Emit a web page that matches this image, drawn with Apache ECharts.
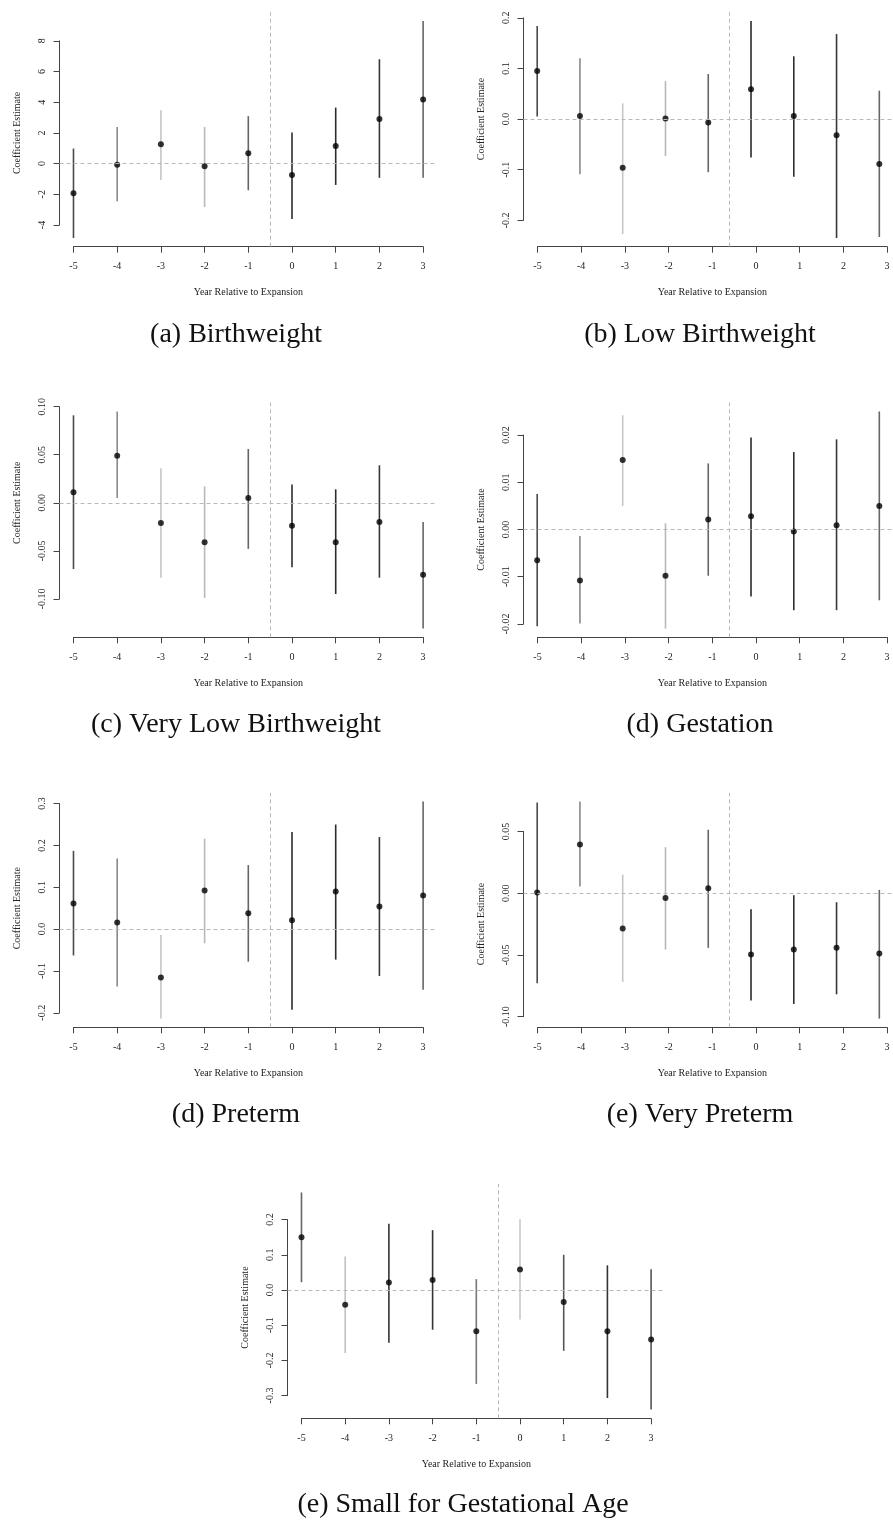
<!DOCTYPE html>
<html>
<head>
<meta charset="utf-8">
<script src="https://cdn.jsdelivr.net/npm/echarts@6/dist/echarts.min.js"></script>
<style>
html,body{margin:0;padding:0;background:#fff;}
#chart{width:893px;height:1520px;}
</style>
</head>
<body>
<div id="chart"></div>
<script>
// ---------------- DATA ----------------
const years = [-5, -4, -3, -2, -1, 0, 1, 2, 3];
const xTickLabels = ['-5', '-4', '-3', '-2', '-1', '0', '1', '2', '3'];

// (a) Birthweight
const bwEst = [-1.93, -0.07, 1.26, -0.17, 0.67, -0.74, 1.15, 2.91, 4.17];
const bwLo  = [-4.85, -2.46, -1.07, -2.83, -1.74, -3.61, -1.39, -0.93, -0.93];
const bwHi  = [0.98, 2.39, 3.48, 2.39, 3.09, 2.02, 3.65, 6.80, 9.30];
const bwTicks = ['-4', '-2', '0', '2', '4', '6', '8'];

// (b) Low Birthweight
const lbwEst = [0.095, 0.006, -0.096, 0.001, -0.007, 0.059, 0.006, -0.032, -0.089];
const lbwLo  = [0.005, -0.109, -0.227, -0.073, -0.105, -0.076, -0.114, -0.235, -0.233];
const lbwHi  = [0.184, 0.120, 0.031, 0.075, 0.089, 0.194, 0.124, 0.168, 0.056];
const lbwTicks = ['-0.2', '-0.1', '0.0', '0.1', '0.2'];

// (c) Very Low Birthweight
const vlbwEst = [0.011, 0.049, -0.021, -0.041, 0.005, -0.024, -0.041, -0.020, -0.075];
const vlbwLo  = [-0.069, 0.005, -0.078, -0.099, -0.048, -0.067, -0.095, -0.078, -0.131];
const vlbwHi  = [0.091, 0.095, 0.036, 0.017, 0.056, 0.019, 0.014, 0.039, -0.020];
const vlbwTicks = ['-0.10', '-0.05', '0.00', '0.05', '0.10'];

// (d) Gestation
const gestEst = [-0.0065, -0.0108, 0.0147, -0.0098, 0.0021, 0.0028, -0.0004, 0.0009, 0.0050];
const gestLo  = [-0.0205, -0.0199, 0.0050, -0.0210, -0.0098, -0.0142, -0.0171, -0.0171, -0.0150];
const gestHi  = [0.0075, -0.0014, 0.0242, 0.0013, 0.0140, 0.0195, 0.0164, 0.0191, 0.0250];
const gestTicks = ['-0.02', '-0.01', '0.00', '0.01', '0.02'];

// (d) Preterm
const ptEst = [0.061, 0.016, -0.116, 0.092, 0.038, 0.021, 0.090, 0.054, 0.080];
const ptLo  = [-0.063, -0.137, -0.214, -0.034, -0.078, -0.193, -0.073, -0.112, -0.145];
const ptHi  = [0.187, 0.169, -0.014, 0.216, 0.153, 0.232, 0.250, 0.220, 0.305];
const ptTicks = ['-0.2', '-0.1', '0.0', '0.1', '0.2', '0.3'];

// (e) Very Preterm
const vptEst = [0.0005, 0.0395, -0.0286, -0.0038, 0.0041, -0.0497, -0.0457, -0.0441, -0.0489];
const vptLo  = [-0.0730, 0.0054, -0.0719, -0.0457, -0.0443, -0.0870, -0.0897, -0.0819, -0.1016];
const vptHi  = [0.0735, 0.0743, 0.0151, 0.0373, 0.0514, -0.0130, -0.0016, -0.0073, 0.0027];
const vptTicks = ['-0.10', '-0.05', '0.00', '0.05'];

// (e) Small for Gestational Age
const sgaEst = [0.150, -0.042, 0.021, 0.028, -0.117, 0.058, -0.034, -0.117, -0.141];
const sgaLo  = [0.022, -0.179, -0.150, -0.113, -0.267, -0.084, -0.173, -0.307, -0.340];
const sgaHi  = [0.277, 0.095, 0.188, 0.170, 0.031, 0.201, 0.100, 0.070, 0.059];
const sgaTicks = ['-0.3', '-0.2', '-0.1', '0.0', '0.1', '0.2'];

const captions = ['(a) Birthweight', '(b) Low Birthweight', '(c) Very Low Birthweight',
  '(d) Gestation', '(d) Preterm', '(e) Very Preterm', '(e) Small for Gestational Age'];

// ---------------- STYLE / LAYOUT ----------------
const barColorsMain = ['#4a4a4a', '#8a8a8a', '#c6c6c6', '#b8b8b8', '#656565', '#2c2c2c', '#2c2c2c', '#363636', '#666666'];
const barColorsSga  = ['#666666', '#c2c2c2', '#333333', '#333333', '#777777', '#c8c8c8', '#555555', '#333333', '#555555'];

const panels = [
  {est: bwEst, lo: bwLo, hi: bwHi, ticks: bwTicks, colors: barColorsMain},
  {est: lbwEst, lo: lbwLo, hi: lbwHi, ticks: lbwTicks, colors: barColorsMain},
  {est: vlbwEst, lo: vlbwLo, hi: vlbwHi, ticks: vlbwTicks, colors: barColorsMain},
  {est: gestEst, lo: gestLo, hi: gestHi, ticks: gestTicks, colors: barColorsMain},
  {est: ptEst, lo: ptLo, hi: ptHi, ticks: ptTicks, colors: barColorsMain},
  {est: vptEst, lo: vptLo, hi: vptHi, ticks: vptTicks, colors: barColorsMain},
  {est: sgaEst, lo: sgaLo, hi: sgaHi, ticks: sgaTicks, colors: barColorsSga}
];
const layout = [
  {left: 59.5, axisY: 246.7}, {left: 523.5, axisY: 246.7},
  {left: 59.5, axisY: 637.3}, {left: 523.5, axisY: 637.3},
  {left: 59.5, axisY: 1027.3}, {left: 523.5, axisY: 1027.3},
  {left: 287.5, axisY: 1418.3}
];
const captionPos = [[236, 335], [700, 335], [236, 725], [700, 725], [236, 1115], [700, 1115], [463, 1505]];
const PW = 377.6, PH = 234.5;
const FONT = 'Liberation Serif';
const AXIS_COLOR = '#444';
const TEXT_COLOR = '#222';
const DASH_COLOR = '#b8b8b8';

const grid = [], xAxis = [], yAxis = [], series = [];

panels.forEach((p, i) => {
  const lay = layout[i];
  const xmin = Math.min(...years), xmax = Math.max(...years);
  const xlo = xmin - 0.04 * (xmax - xmin), xhi = xmax + 0.04 * (xmax - xmin);
  const dmin = Math.min(...p.lo), dmax = Math.max(...p.hi);
  const ylo = dmin - 0.04 * (dmax - dmin), yhi = dmax + 0.04 * (dmax - dmin);
  const tvals = p.ticks.map(Number);
  const tMin = tvals[0], tMax = tvals[tvals.length - 1];
  const tInt = +((tMax - tMin) / (tvals.length - 1)).toFixed(6);

  // plot grid (R plot region)
  const gTop = lay.axisY - PH;
  const gi = grid.length;
  grid.push({left: lay.left, top: gTop, width: PW, height: PH});
  xAxis.push({type: 'value', gridIndex: gi, min: xlo, max: xhi, show: false});
  yAxis.push({type: 'value', gridIndex: gi, min: ylo, max: yhi, show: false});

  // axis grid (R-style detached axes)
  const aLeft = lay.left + PW * (xmin - xlo) / (xhi - xlo);
  const aWidth = PW * (xmax - xmin) / (xhi - xlo);
  const aTop = lay.axisY - PH * (tMax - ylo) / (yhi - ylo);
  const aHeight = PH * (tMax - tMin) / (yhi - ylo);
  const ai = grid.length;
  grid.push({left: aLeft, top: aTop, width: aWidth, height: aHeight});
  xAxis.push({
    type: 'value', gridIndex: ai, min: xmin, max: xmax, interval: 1,
    position: 'bottom',
    offset: lay.axisY - (aTop + aHeight),
    name: 'Year Relative to Expansion', nameLocation: 'middle', nameGap: 41,
    nameTextStyle: {fontFamily: FONT, fontSize: 10, color: TEXT_COLOR},
    axisLine: {show: true, onZero: false, lineStyle: {color: AXIS_COLOR, width: 1}},
    axisTick: {show: true, length: 6, lineStyle: {color: AXIS_COLOR}},
    splitLine: {show: false},
    axisLabel: {fontFamily: FONT, fontSize: 10, color: TEXT_COLOR, margin: 15,
      showMinLabel: true, showMaxLabel: true,
      formatter: v => xTickLabels[years.indexOf(Math.round(v))] || ''}
  });
  yAxis.push({
    type: 'value', gridIndex: ai, min: tMin, max: tMax, interval: tInt,
    position: 'left',
    offset: aLeft - lay.left,
    name: 'Coefficient Estimate', nameLocation: 'middle', nameGap: 37, nameRotate: 90,
    nameTextStyle: {fontFamily: FONT, fontSize: 10, color: TEXT_COLOR},
    axisLine: {show: true, onZero: false, lineStyle: {color: AXIS_COLOR, width: 1}},
    axisTick: {show: true, length: 6, lineStyle: {color: AXIS_COLOR}},
    splitLine: {show: false},
    axisLabel: {fontFamily: FONT, fontSize: 10, color: TEXT_COLOR, margin: 12, rotate: 90,
      showMinLabel: true, showMaxLabel: true,
      formatter: v => {
        let best = 0, bd = Infinity;
        tvals.forEach((t, k) => { const d = Math.abs(t - v); if (d < bd) { bd = d; best = k; } });
        return p.ticks[best];
      }}
  });

  // error bars
  series.push({
    type: 'custom', xAxisIndex: gi, yAxisIndex: gi, clip: false, silent: true,
    data: years.map((y, k) => [y, p.lo[k], p.hi[k]]),
    encode: {x: 0, y: [1, 2]},
    renderItem: (params, api) => {
      const a = api.coord([api.value(0), api.value(1)]);
      const b = api.coord([api.value(0), api.value(2)]);
      return {type: 'line', shape: {x1: a[0], y1: a[1], x2: b[0], y2: b[1]},
        style: {stroke: p.colors[params.dataIndex], lineWidth: 1.6}};
    },
    markLine: {
      silent: true, symbol: 'none', label: {show: false},
      lineStyle: {color: DASH_COLOR, type: [4, 3], width: 1},
      data: [{yAxis: 0}, {xAxis: -0.5}]
    },
    z: 2
  });
  // point estimates
  series.push({
    type: 'scatter', xAxisIndex: gi, yAxisIndex: gi, silent: true,
    symbol: 'circle', symbolSize: 6, clip: false,
    itemStyle: {color: '#000'},
    data: years.map((y, k) => [y, p.est[k]]),
    z: 3
  });
});

const graphic = captions.map((c, i) => ({
  type: 'text', x: captionPos[i][0], y: captionPos[i][1],
  style: {text: c, fontFamily: FONT, fontSize: 28, fill: '#111', align: 'center', verticalAlign: 'middle'}
}));

const chart = echarts.init(document.getElementById('chart'), null, {renderer: 'canvas'});
chart.setOption({
  animation: false,
  backgroundColor: '#fff',
  grid, xAxis, yAxis, series, graphic
});
</script>
</body>
</html>
